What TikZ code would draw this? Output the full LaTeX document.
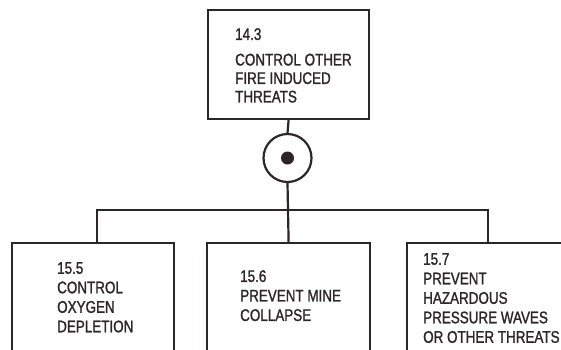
\documentclass[tikz,border=0pt]{standalone}
\usepackage{fontspec}
\setmainfont{Liberation Sans}[FakeStretch=0.8, FakeBold=1.3]
\definecolor{ink}{RGB}{45,38,40}
\tikzset{
    box/.style={draw=ink, line width=2.2pt, rectangle, inner sep=0pt, anchor=north west},
    boxtext/.style={anchor=north west, inner sep=0pt, align=left, text=ink,
        font=\fontsize{16.8}{19.5}\selectfont},
    link/.style={draw=ink, line width=2.2pt}
}
\begin{document}
\begin{tikzpicture}[x=1pt,y=-1pt]
    \useasboundingbox (0,0) rectangle (561,349);
    \clip (0,0) rectangle (561,349);
    \fill[white] (0,0) rectangle (561,349);

    % top function
    \node[box, minimum width=161pt, minimum height=109pt] (fire) at (207,9) {};
    \node[boxtext, font=\fontsize{16.8}{18.5}\selectfont] (firetext) at (235,28)
        {14.3\\[7pt]CONTROL OTHER\\FIRE INDUCED\\THREATS};

    % and gate
    \node[draw=ink, line width=2.2pt, circle, minimum size=48pt, inner sep=0pt] (gate) at (287.5,158) {};
    \node[fill=ink, circle, minimum size=13pt, inner sep=0pt] (gatedot) at (gate.center) {};

    % sub functions
    \node[box, minimum width=162pt, minimum height=130pt] (oxygen) at (11,242) {};
    \node[box, minimum width=163pt, minimum height=130pt] (collapse) at (206,242) {};
    \node[box, minimum width=162pt, minimum height=130pt] (pressure) at (406,242) {};

    \node[boxtext] (oxygentext) at (57,262) {15.5\\CONTROL\\OXYGEN\\DEPLETION};
    \node[boxtext] (collapsetext) at (240,270) {15.6\\PREVENT MINE\\COLLAPSE};
    \node[boxtext] (pressuretext) at (423,253)
        {15.7\\PREVENT\\HAZARDOUS\\PRESSURE WAVES\\OR OTHER THREATS};

    \coordinate (bus) at (287.5,210);
    \draw[link] (fire.south) -- (gate.north);
    \draw[link] (gate.south) -- (collapse.north);
    \draw[link] ([xshift=4pt]oxygen.north) |- (bus) -| (pressure.north);

\end{tikzpicture}
\end{document}
